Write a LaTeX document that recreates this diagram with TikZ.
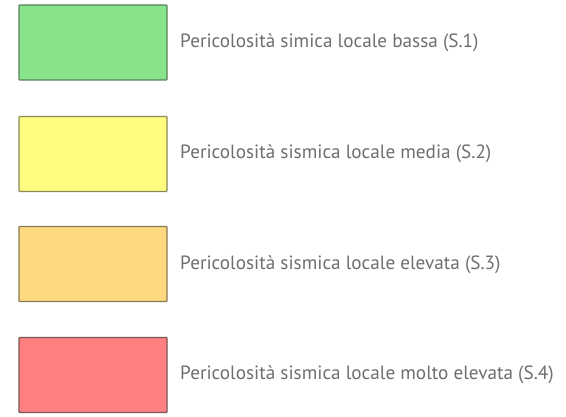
\documentclass[tikz,border=0pt]{standalone}
\usepackage{fontspec}
\setmainfont{PT Sans}
\definecolor{gfill}{HTML}{88E48A}
\definecolor{gline}{HTML}{5C7F5C}
\definecolor{yfill}{HTML}{FFFC80}
\definecolor{yline}{HTML}{8A8A5A}
\definecolor{ofill}{HTML}{FED97F}
\definecolor{oline}{HTML}{8A7A55}
\definecolor{rfill}{HTML}{FF8080}
\definecolor{rline}{HTML}{7A5555}
\definecolor{txt}{HTML}{6E6E6E}
\begin{document}
\begin{tikzpicture}[x=1pt,y=-1pt,
  swatch/.style={draw=#1, line width=1.3pt, rounded corners=0.8pt, minimum width=148pt, minimum height=75pt, inner sep=0pt},
  lbl/.style={anchor=west, text=txt, font=\fontsize{19.2}{22}\selectfont, inner sep=0pt}]
\useasboundingbox (0,0) rectangle (566,417);
\node[swatch=gline, fill=gfill] (b1) at (93,42.5) {};
\node[swatch=yline, fill=yfill] (b2) at (93,154) {};
\node[swatch=oline, fill=ofill] (b3) at (93,264) {};
\node[swatch=rline, fill=rfill] (b4) at (93,375) {};
\node[lbl] (t1) at (180,43) {Pericolosità simica locale bassa (S.1)};
\node[lbl] (t2) at (180,154) {Pericolosità sismica locale media (S.2)};
\node[lbl] (t3) at (180,265) {Pericolosità sismica locale elevata (S.3)};
\node[lbl] (t4) at (180,375) {Pericolosità sismica locale molto elevata (S.4)};
\end{tikzpicture}
\end{document}
